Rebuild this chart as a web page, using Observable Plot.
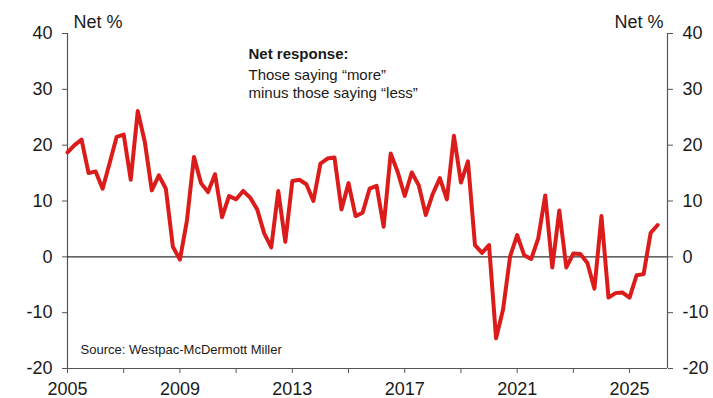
<!DOCTYPE html>
<html>
<head>
<meta charset="utf-8">
<script src="https://cdn.jsdelivr.net/npm/d3@7"></script>
<script src="https://cdn.jsdelivr.net/npm/@observablehq/plot@0.6"></script>
<style>
  html, body { margin: 0; padding: 0; background: #fff; }
  #chart svg { display: block; }
</style>
</head>
<body>
<div id="chart"></div>
<script>
// Quarterly net response, starting 2005 Q1
const startYear = 2005;
const netValues = [
  18.7, 20.0, 21.0, 15.0, 15.3, 12.2, 16.8, 21.5, 21.9, 13.8,
  26.1, 20.6, 11.9, 14.6, 12.2, 1.8, -0.5, 6.5, 17.9, 13.2,
  11.6, 14.8, 7.1, 10.9, 10.3, 11.8, 10.6, 8.5, 4.2, 1.7,
  11.8, 2.7, 13.6, 13.8, 13.0, 10.0, 16.7, 17.6, 17.8, 8.5,
  13.2, 7.3, 7.9, 12.2, 12.7, 5.4, 18.5, 15.2, 10.9, 15.1,
  12.8, 7.5, 11.3, 14.1, 10.3, 21.7, 13.3, 17.1, 2.1, 0.7,
  2.1, -14.6, -9.4, 0.1, 3.9, 0.3, -0.4, 3.3, 11.0, -1.9,
  8.3, -1.9, 0.6, 0.5, -1.1, -5.7, 7.3, -7.3, -6.5, -6.4,
  -7.3, -3.3, -3.1, 4.3, 5.7
];
const yTicks = [-20, -10, 0, 10, 20, 30, 40];
const xTicks = [2005, 2007, 2009, 2011, 2013, 2015, 2017, 2019, 2021, 2023, 2025];
const xTickLabels = [2005, 2009, 2013, 2017, 2021, 2025];
const xDomain = [2005, 2026.35];
const yDomain = [-20, 40];
const unitLabel = "Net %";
const noteTitle = "Net response:";
const noteBody = "Those saying \u201Cmore\u201D\nminus those saying \u201Cless\u201D";
const sourceText = "Source: Westpac-McDermott Miller";

const data = netValues.map((v, i) => ({t: startYear + i / 4, v}));

const axisColor = "#555";
const textColor = "#1a1a1a";
const yFormat = d => String(d);

const chart = Plot.plot({
  width: 713,
  height: 398,
  marginLeft: 67,
  marginRight: 46,
  marginTop: 33,
  marginBottom: 30,
  style: {fontFamily: "'Liberation Sans', Arial, sans-serif", fontSize: "18px", color: textColor, background: "#fff"},
  x: {domain: xDomain},
  y: {domain: yDomain},
  marks: [
    Plot.axisY({anchor: "left", ticks: yTicks, tickSize: 5, tickPadding: 10, label: null, stroke: axisColor, fill: textColor, fontSize: 18, tickFormat: yFormat}),
    Plot.axisY({anchor: "right", ticks: yTicks, tickSize: 5, tickPadding: 10, label: null, stroke: axisColor, fill: textColor, fontSize: 18, tickFormat: yFormat}),
    Plot.axisX({ticks: xTicks, tickSize: 5, tickPadding: 9, label: null, stroke: axisColor, fill: textColor, fontSize: 18,
      tickFormat: d => xTickLabels.includes(d) ? String(d) : ""}),
    Plot.ruleX([xDomain[0], xDomain[1]], {stroke: axisColor, strokeWidth: 1.2}),
    Plot.ruleY([yDomain[0]], {stroke: axisColor, strokeWidth: 1.2}),
    Plot.ruleY([0], {stroke: "#333", strokeWidth: 1.2}),
    Plot.line(data, {x: "t", y: "v", stroke: "#dc1c1a", strokeWidth: 4, strokeLinejoin: "round"}),
    Plot.text([unitLabel], {frameAnchor: "top-left", textAnchor: "start", lineAnchor: "top", dx: 6, dy: -18, fontSize: 18, fill: textColor}),
    Plot.text([unitLabel], {frameAnchor: "top-right", textAnchor: "end", lineAnchor: "top", dx: -4, dy: -18, fontSize: 18, fill: textColor}),
    Plot.text([noteTitle], {frameAnchor: "top-left", textAnchor: "start", lineAnchor: "top", dx: 181, dy: 15, fontSize: 15, fontWeight: "bold", fill: textColor}),
    Plot.text([noteBody], {frameAnchor: "top-left", textAnchor: "start", lineAnchor: "top", dx: 181, dy: 33.3, fontSize: 15, lineHeight: 1.22, fill: textColor}),
    Plot.text([sourceText], {frameAnchor: "bottom-left", textAnchor: "start", lineAnchor: "top", dx: 13, dy: -23.6, fontSize: 13, fill: textColor})
  ]
});
document.getElementById("chart").appendChild(chart);
</script>
</body>
</html>
